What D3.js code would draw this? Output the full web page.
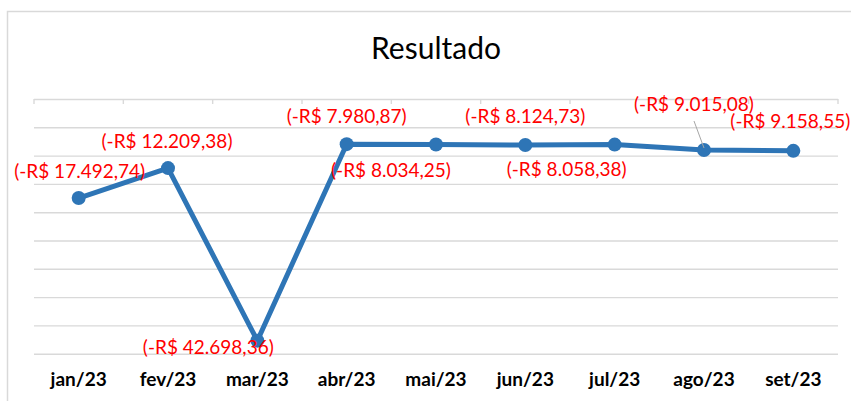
<!DOCTYPE html>
<html>
<head>
<meta charset="utf-8">
<script src="https://cdn.jsdelivr.net/npm/d3@7"></script>
<style>
  html, body { margin: 0; padding: 0; background: #fff; }
  svg { display: block; }
</style>
</head>
<body>
<svg id="chart" width="851" height="401"></svg>
<script>
// ---- Data ----
const categories = ["jan/23", "fev/23", "mar/23", "abr/23", "mai/23", "jun/23", "jul/23", "ago/23", "set/23"];
const values = [-17492.74, -12209.38, -42698.36, -7980.87, -8034.25, -8124.73, -8058.38, -9015.08, -9158.55];
const yTicks = [0, -5000, -10000, -15000, -20000, -25000, -30000, -35000, -40000, -45000];
const title = "Resultado";

// ---- Layout (label placement relative to each point, in px) ----
const labelOffsets = [[1, -27], [-1, -27], [-49, 7], [0, -28], [-45, 26], [0, -29], [-48, 25], [-10, -46], [-3, -29]];

const svg = d3.select("#chart");
const W = 851, H = 401;
const plot = { left: 34, right: 838, top: 99, bottom: 353.7 };

// chart border
svg.append("rect")
  .attr("x", 7.5).attr("y", 11.5)
  .attr("width", W + 20).attr("height", H + 20)
  .attr("fill", "#fff").attr("stroke", "#d9d9d9").attr("stroke-width", 1.5);

const x = d3.scaleBand().domain(categories).range([plot.left, plot.right]).padding(0);
const y = d3.scaleLinear().domain([-45000, 0]).range([plot.bottom, plot.top]);

// gridlines
const yAxis = d3.axisLeft(y).tickValues(yTicks).tickSize(-(plot.right - plot.left)).tickFormat("");
const gy = svg.append("g").attr("transform", `translate(${plot.left},0)`).call(yAxis);
gy.select(".domain").remove();
gy.selectAll(".tick line").attr("stroke", "#d9d9d9").attr("stroke-width", 1.4);

// category axis at value 0 with tick marks pointing down
const bounds = categories.map(c => x(c)).concat([plot.right]);
svg.append("g").selectAll("line").data(bounds).join("line")
  .attr("x1", d => d).attr("x2", d => d)
  .attr("y1", y(0)).attr("y2", y(0) + 5)
  .attr("stroke", "#d9d9d9").attr("stroke-width", 1.4);

// category labels at bottom
const xAxis = d3.axisBottom(x).tickSize(0).tickPadding(0);
const gx = svg.append("g").attr("transform", `translate(0,${plot.bottom})`).call(xAxis);
gx.select(".domain").remove();
gx.selectAll(".tick text")
  .attr("y", 32).attr("dy", 0)
  .attr("font-family", "Lato, 'Open Sans', sans-serif")
  .attr("font-weight", "bold")
  .attr("font-size", 19)
  .attr("fill", "#000");

// title
svg.append("text")
  .attr("x", (plot.left + plot.right) / 2).attr("y", 59)
  .attr("text-anchor", "middle")
  .attr("font-family", "Lato, 'Open Sans', sans-serif")
  .attr("font-size", 30)
  .attr("fill", "#000")
  .text(title);

const cx = i => x(categories[i]) + x.bandwidth() / 2;

// line
svg.append("path")
  .datum(values)
  .attr("fill", "none")
  .attr("stroke", "#2E75B6")
  .attr("stroke-width", 5)
  .attr("stroke-linejoin", "round")
  .attr("d", d3.line().x((d, i) => cx(i)).y(d => y(d)));

// markers
svg.append("g").selectAll("circle").data(values).join("circle")
  .attr("cx", (d, i) => cx(i)).attr("cy", d => y(d))
  .attr("r", 7).attr("fill", "#2E75B6");

// leader line for ago/23
const ai = 7;
svg.append("line")
  .attr("x1", cx(ai) + labelOffsets[ai][0]).attr("y1", y(values[ai]) + labelOffsets[ai][1] + 17)
  .attr("x2", cx(ai)).attr("y2", y(values[ai]) - 2)
  .attr("stroke", "#a6a6a6").attr("stroke-width", 1);

// data labels
const loc = d3.formatLocale({ decimal: ",", thousands: ".", grouping: [3], currency: ["R$ ", ""] });
const fmt = loc.format(",.2f");
svg.append("g").selectAll("text").data(values).join("text")
  .attr("x", (d, i) => cx(i) + labelOffsets[i][0])
  .attr("y", (d, i) => y(d) + labelOffsets[i][1])
  .attr("dy", "0.35em")
  .attr("text-anchor", "middle")
  .attr("font-family", "Lato, 'Open Sans', sans-serif")
  .attr("font-size", 19)
  .attr("fill", "#FF0000")
  .text(d => `(-R$ ${fmt(Math.abs(d))})`);
</script>
</body>
</html>
